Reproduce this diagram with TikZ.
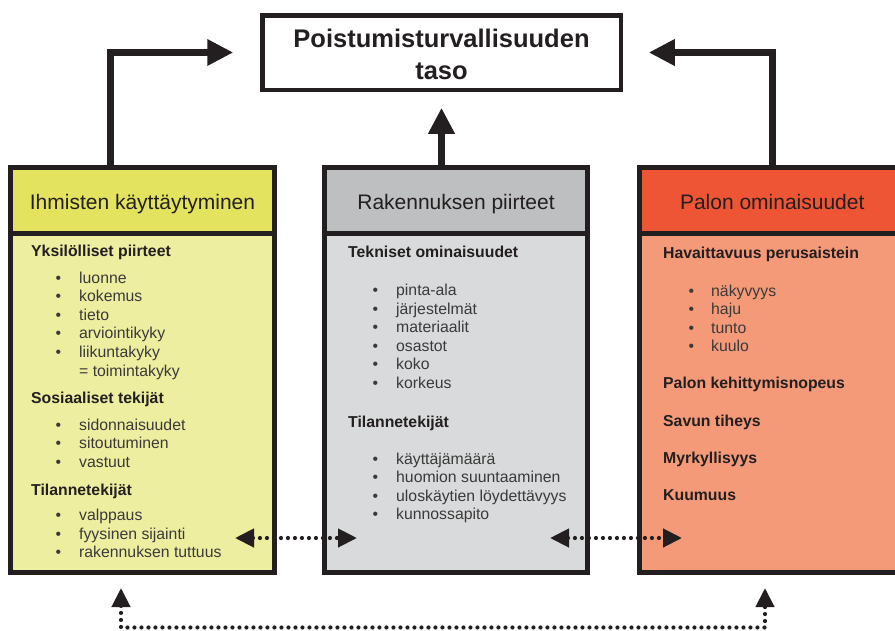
\documentclass[tikz,border=0pt]{standalone}
\usepackage{fontspec}
\setmainfont{Liberation Sans}
\usetikzlibrary{arrows.meta}
\definecolor{yhead}{HTML}{E3E35F}
\definecolor{ybody}{HTML}{EEEEA0}
\definecolor{ghead}{HTML}{BEBFC1}
\definecolor{gbody}{HTML}{D9DADB}
\definecolor{rhead}{HTML}{EE5535}
\definecolor{rbody}{HTML}{F49A78}
\definecolor{ink}{HTML}{231F20}
\definecolor{txt}{HTML}{3A3A3A}
\begin{document}
\begin{tikzpicture}[x=1pt,y=-1pt,
  box/.style={draw=ink, line width=5pt, inner sep=0pt, outer sep=0pt, anchor=north west},
  htxt/.style={anchor=base, inner sep=0pt, font=\fontsize{21}{24}\selectfont, text=ink},
  bhd/.style={anchor=base west, inner sep=0pt, font=\fontsize{15.8}{18}\selectfont\bfseries, text=ink},
  bt/.style={anchor=base west, inner sep=0pt, font=\fontsize{15.8}{18}\selectfont, text=txt},
  bigarr/.style={draw=ink, line width=7pt, line join=miter, -{Triangle[length=26pt,width=25pt]}},
  dotarr/.style={draw=ink, line width=4.2pt, dash pattern=on 0pt off 7pt, line cap=round,
    {Triangle[length=19pt,width=18pt]}-{Triangle[length=19pt,width=18pt]}}
]
\useasboundingbox (0,0) rectangle (895,630);

% title
\node[box, line width=4.5pt, fill=white, minimum width=358.5pt, minimum height=74.5pt] (title) at (262.25,15.25) {};
\node[anchor=base, inner sep=0pt, font=\fontsize{25.5}{32}\selectfont\bfseries, text=ink, align=center] (ttl) at ([yshift=-63.75pt]title.north) {Poistumisturvallisuuden\\taso};

% left box
\node[box, fill=ybody, minimum width=264pt, minimum height=339.5pt] (lb) at (10.5,233) {};
\node[box, fill=yhead, minimum width=264pt, minimum height=65.5pt] (lh) at (10.5,167.5) {};
\node[htxt] (lht) at ([yshift=-9pt]lh.center) {Ihmisten käyttäytyminen};

% centre box
\node[box, fill=gbody, minimum width=263pt, minimum height=339.5pt] (cb) at (324.5,233) {};
\node[box, fill=ghead, minimum width=263pt, minimum height=65.5pt] (ch) at (324.5,167.5) {};
\node[htxt] (cht) at ([yshift=-9pt]ch.center) {Rakennuksen piirteet};

% right box
\node[box, fill=rbody, minimum width=265.5pt, minimum height=339.5pt] (rb) at (639.5,233) {};
\node[box, fill=rhead, minimum width=265.5pt, minimum height=65.5pt] (rh) at (639.5,167.5) {};
\node[htxt] (rht) at ([yshift=-9pt]rh.center) {Palon ominaisuudet};

% left texts
\node[bhd] (l1) at (31,256) {Yksilölliset piirteet};
\foreach \t/\y [count=\i] in {luonne/283,kokemus/301.5,tieto/320,arviointikyky/338.5,liikuntakyky/357}
  \node[bt] (la\i) at (55.3,\y) {\makebox[23.7pt][l]{•}\t};
\node[bt] (la6) at (79,376) {= toimintakyky};
\node[bhd] (l2) at (31,403) {Sosiaaliset tekijät};
\foreach \t/\y [count=\i] in {sidonnaisuudet/430,sitoutuminen/448.5,vastuut/467}
  \node[bt] (lc\i) at (55.3,\y) {\makebox[23.7pt][l]{•}\t};
\node[bhd] (l3) at (31,495) {Tilannetekijät};
\foreach \t/\y [count=\i] in {valppaus/520.5,fyysinen sijainti/539,rakennuksen tuttuus/557.5}
  \node[bt] (le\i) at (55.3,\y) {\makebox[23.7pt][l]{•}\t};

% centre texts
\node[bhd] (c1) at (348,257) {Tekniset ominaisuudet};
\foreach \t/\y [count=\i] in {pinta-ala/295.5,järjestelmät/314,materiaalit/332.5,osastot/351,koko/369.5,korkeus/388}
  \node[bt] (ca\i) at (372.3,\y) {\makebox[23.7pt][l]{•}\t};
\node[bhd] (c2) at (348,427) {Tilannetekijät};
\foreach \t/\y [count=\i] in {käyttäjämäärä/464,huomion suuntaaminen/482.5,uloskäytien löydettävyys/501,kunnossapito/519.5}
  \node[bt] (cc\i) at (372.3,\y) {\makebox[23.7pt][l]{•}\t};

% right texts
\node[bhd] (r1) at (663,258) {Havaittavuus perusaistein};
\foreach \t/\y [count=\i] in {näkyvyys/296,haju/314.5,tunto/333,kuulo/351.5}
  \node[bt] (ra\i) at (688.3,\y) {\makebox[22.7pt][l]{•}\t};
\node[bhd] (r2) at (663,388) {Palon kehittymisnopeus};
\node[bhd] (r3) at (663,426.5) {Savun tiheys};
\node[bhd] (r4) at (663,463.5) {Myrkyllisyys};
\node[bhd] (r5) at (663,500.5) {Kuumuus};

% solid arrows
\draw[bigarr, shorten >=29pt] ([xshift=-32pt]lh.north) |- (title.west);
\draw[bigarr, shorten >=18pt] (title.south |- ch.north) -- (title.south);
\draw[bigarr, shorten >=28pt] (rh.north) |- (title.east);

% dotted arrows
\coordinate (d1) at (235,538);
\coordinate (d2) at (357,538);
\coordinate (d3) at (550,538);
\coordinate (d4) at (682,538);
\coordinate (b1) at (121,588);
\coordinate (b2) at (765,588);
\coordinate (bl) at (121,627.5);
\coordinate (br) at (765,627.5);
\draw[dotarr] (d1) -- (d2);
\draw[dotarr] (d3) -- (d4);
\draw[dotarr] (b1) -- (bl) -- (br) -- (b2);
\end{tikzpicture}
\end{document}
